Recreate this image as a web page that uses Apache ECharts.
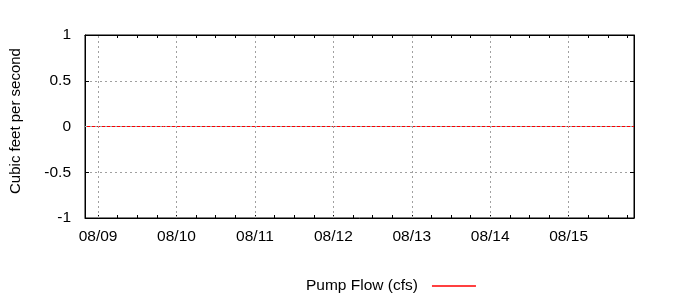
<!DOCTYPE html>
<html>
<head>
<meta charset="utf-8">
<script src="https://cdn.jsdelivr.net/npm/echarts@6/dist/echarts.min.js"></script>
<style>html,body{margin:0;padding:0;background:#fff}#c{width:700px;height:300px}</style>
</head>
<body>
<div id="c"></div>
<script>
// Hours relative to 08/09 00:00
const dayLabels = ['08/09', '08/10', '08/11', '08/12', '08/13', '08/14', '08/15'];
const dayHours = [0, 24, 48, 72, 96, 120, 144];
const minorTickHours = [0, 6, 12, 18, 24, 30, 36, 42, 48, 54, 60, 66, 72, 78, 84, 90, 96, 102, 108, 114, 120, 126, 132, 138, 144, 150, 156, 162];
const timeHours = [-4, 20, 44, 68, 92, 116, 140, 164];
const pumpFlow = [0, 0, 0, 0, 0, 0, 0, 0];
const yTicks = [-1, -0.5, 0, 0.5, 1];

const FONT = 'Liberation Sans';
const chart = echarts.init(document.getElementById('c'), null, {renderer: 'canvas'});
const gridColor = '#a0a0a0';
const dash = [2, 3];
const xCommon = {
  type: 'value', min: -4, max: 164,
  axisLine: {show: true, onZero: false, lineStyle: {color: '#000', width: 1}},
  axisTick: {show: true, inside: true, length: 3, customValues: minorTickHours, lineStyle: {color: '#000'}},
  splitLine: {show: false}
};
chart.setOption({
  animation: false,
  grid: {left: 85, right: 66, top: 35, bottom: 82, show: true, borderColor: '#000', borderWidth: 1},
  xAxis: [
    Object.assign({}, xCommon, {
      position: 'bottom',
      axisLabel: {
        show: true, customValues: dayHours, margin: 11,
        fontFamily: FONT, fontSize: 15.5, color: '#000',
        formatter: v => dayLabels[dayHours.indexOf(v)]
      }
    }),
    Object.assign({}, xCommon, {position: 'top', axisLabel: {show: false}})
  ],
  yAxis: [
    {
      type: 'value', min: -1, max: 1, interval: 0.5, position: 'left',
      axisLine: {show: true, onZero: false, lineStyle: {color: '#000'}},
      axisTick: {show: true, inside: true, length: 4, lineStyle: {color: '#000'}},
      axisLabel: {margin: 14, fontFamily: FONT, fontSize: 15.5, color: '#000',
        formatter: v => String(yTicks[yTicks.indexOf(v)])},
      splitLine: {show: true, lineStyle: {color: gridColor, type: dash, width: 1}}
    },
    {
      type: 'value', min: -1, max: 1, interval: 0.5, position: 'right',
      axisLine: {show: true, onZero: false, lineStyle: {color: '#000'}},
      axisTick: {show: true, inside: true, length: 4, lineStyle: {color: '#000'}},
      axisLabel: {show: false},
      splitLine: {show: false}
    }
  ],
  legend: {
    show: true, left: 306, top: 278, align: 'right', padding: 0,
    itemWidth: 44, itemHeight: 1.5,
    textStyle: {fontFamily: FONT, fontSize: 15.5, color: '#000', padding: [0, 9, 0, 0]},
    data: [{name: 'Pump Flow (cfs)', icon: 'rect', itemStyle: {color: '#ff0000'}}]
  },
  graphic: [{
    type: 'text',
    rotation: Math.PI / 2,
    x: 16, y: 121,
    style: {text: 'Cubic feet per second', fontFamily: FONT, fontSize: 15, fill: '#000', align: 'center', verticalAlign: 'middle'}
  }],
  series: [{
    name: 'Pump Flow (cfs)', type: 'line', xAxisIndex: 0, yAxisIndex: 0,
    data: timeHours.map((t, i) => [t, pumpFlow[i]]),
    symbol: 'none', lineStyle: {color: '#ff0000', width: 1}, itemStyle: {color: '#ff0000'},
    markLine: {
      silent: true, symbol: 'none', label: {show: false},
      lineStyle: {color: gridColor, type: dash, width: 1},
      data: dayHours.map(h => ({xAxis: h})).concat([{yAxis: 0}])
    }
  }]
});
</script>
</body>
</html>
